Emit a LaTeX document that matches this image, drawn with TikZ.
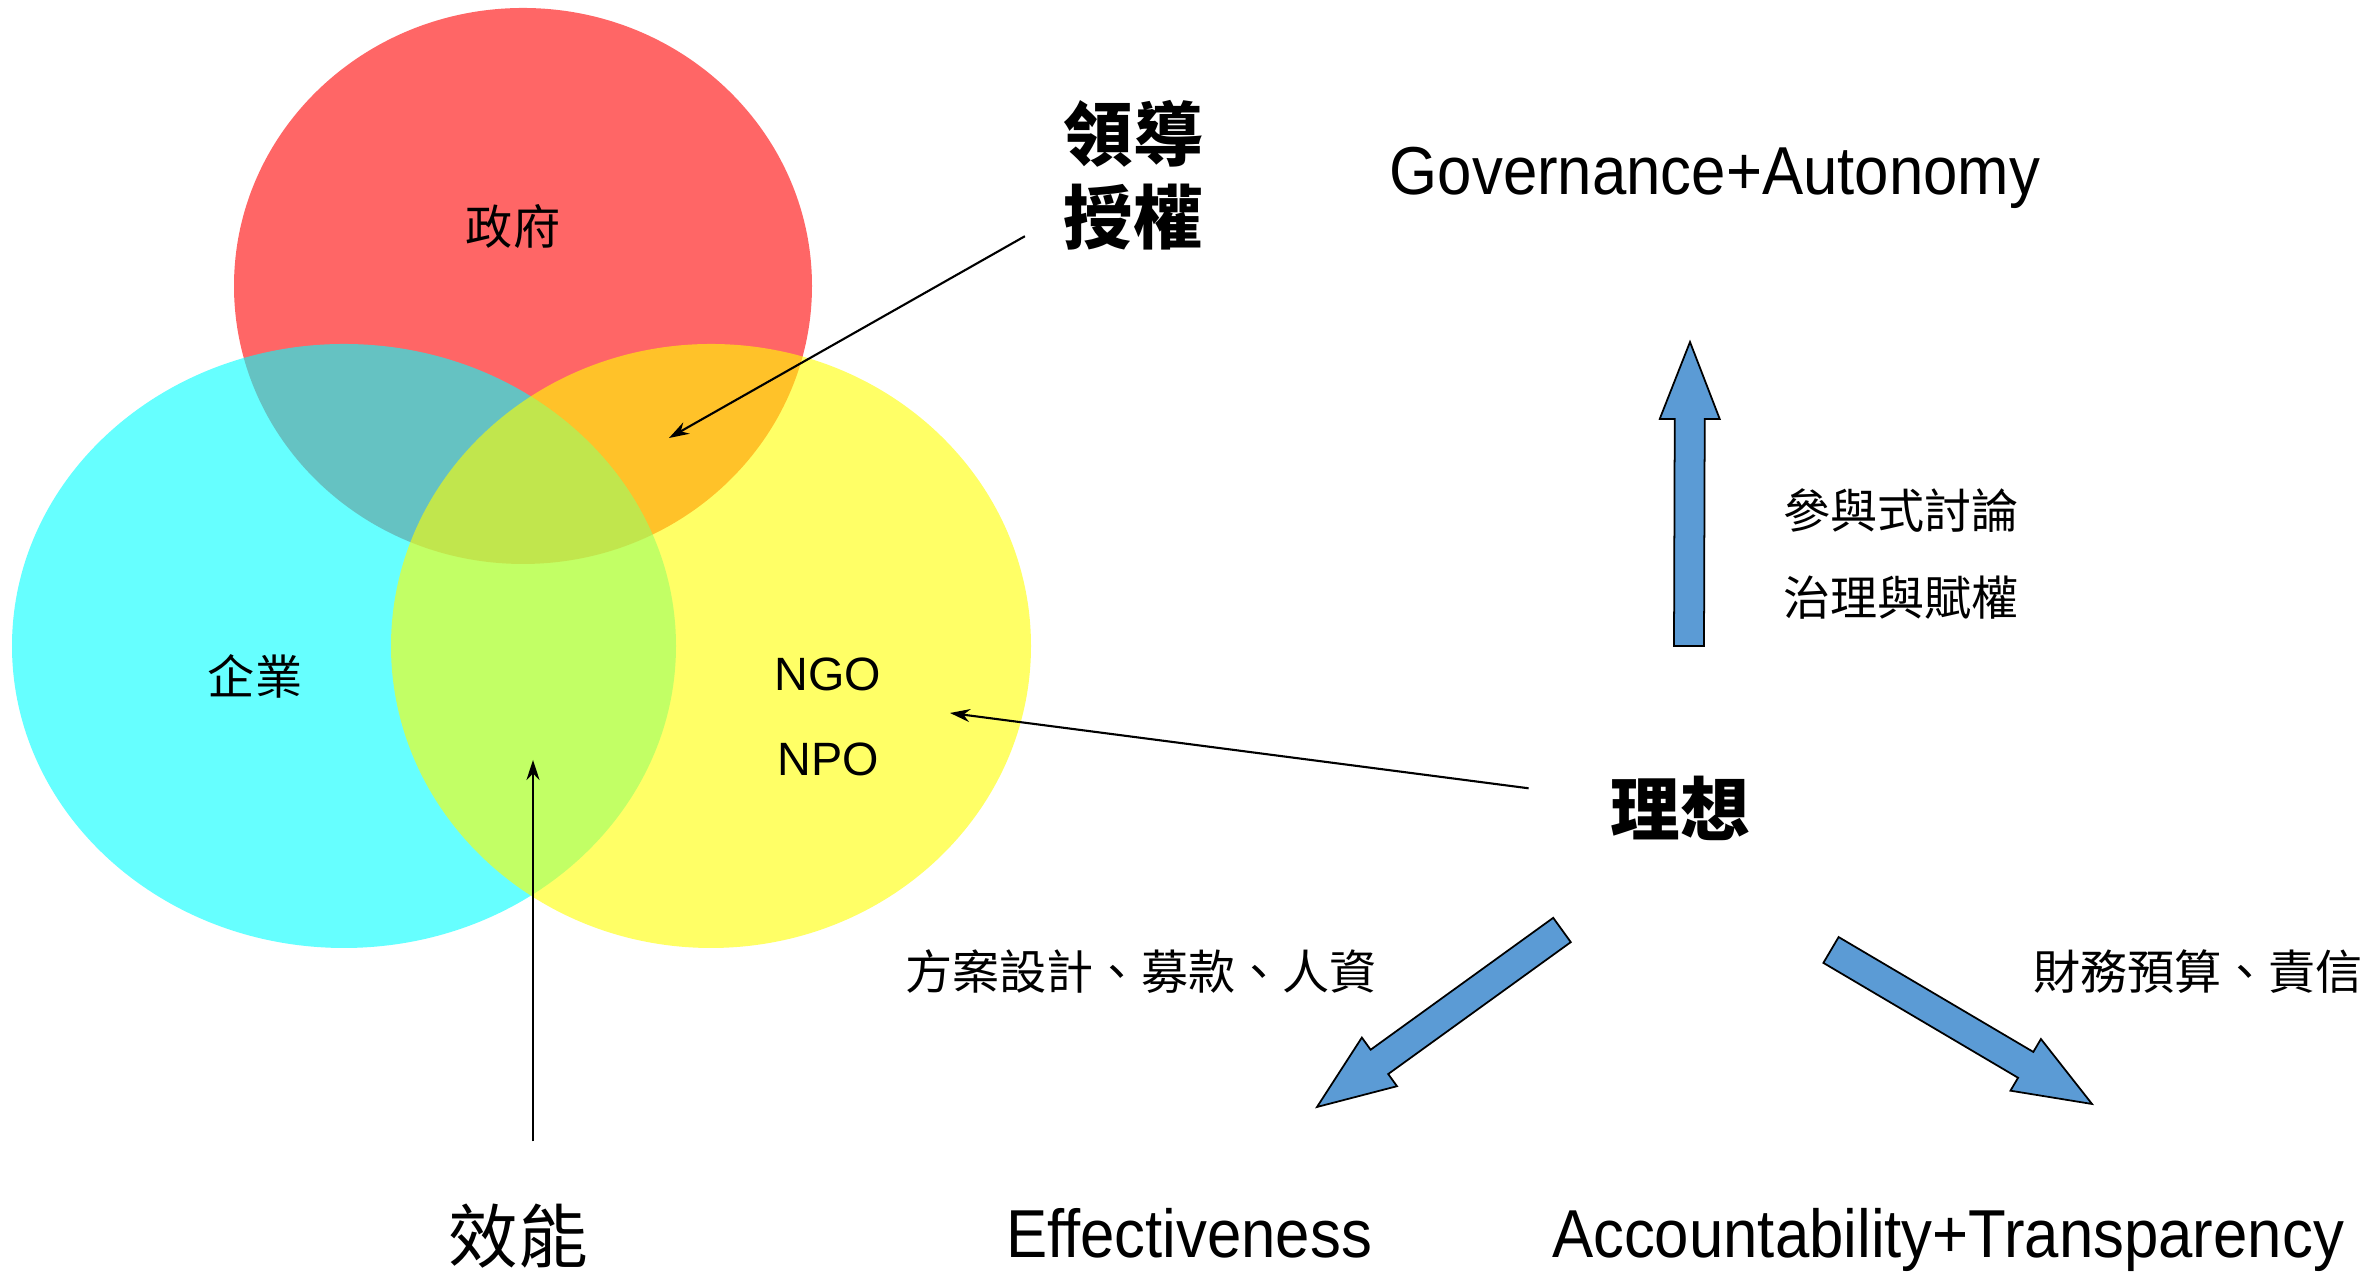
\documentclass[tikz,border=0pt]{standalone}
\usepackage{fontspec}
\setmainfont{Liberation Sans}
\newfontfamily\cjk{Noto Sans CJK TC}
\newfontfamily\narrowsans[FakeStretch=0.91]{Liberation Sans}
\usetikzlibrary{calc}
\usetikzlibrary{arrows.meta,positioning}

\definecolor{vennred}{RGB}{255,0,0}
\definecolor{venncyan}{RGB}{0,255,255}
\definecolor{vennyellow}{RGB}{255,255,0}
\definecolor{arrowblue}{RGB}{91,155,213}

% block arrow from tail #1 to tip #2
\newcommand{\fatarrow}[2]{%
  \coordinate (hb) at ($(#2)!0.77cm!(#1)$);
  \draw[fatstyle] ($(#1)!0.15cm!90:(#2)$) -- ($(hb)!0.15cm!90:(#2)$)
     -- ($(hb)!0.3cm!90:(#2)$) -- (#2) -- ($(hb)!0.3cm!-90:(#2)$)
     -- ($(hb)!0.15cm!-90:(#2)$) -- ($(#1)!0.15cm!-90:(#2)$) -- cycle;
}

\begin{document}
\begin{tikzpicture}[
      venn/.style={
         fill opacity=0.6,
         draw=none},
      smallcjk/.style={
         font={\cjk\fontsize{13.4}{24.5}\selectfont},
         align=center},
      bigcjk/.style={
         font={\cjk\fontsize{19.8}{23.6}\selectfont},
         align=center},
      boldcjk/.style={
         font={\cjk\bfseries\fontsize{19.8}{23.6}\selectfont},
         align=center},
      eng/.style={
         font={\narrowsans\fontsize{19.3}{22}\selectfont},
         anchor=base},
      fatstyle/.style={
         fill=arrowblue,
         draw=black,
         line width=0.5pt},
      thinarrow/.style={
         -{Stealth[length=0.2cm,width=0.13cm]},
         line width=0.6pt}
      ]
      \useasboundingbox (0,0) rectangle (23.69,12.74);

      % the three circles
      \fill[venn, vennred]    (5.23,9.88) ellipse [x radius=2.89, y radius=2.78];
      \fill[venn, venncyan]   (3.44,6.28) ellipse [x radius=3.32, y radius=3.02];
      \fill[venn, vennyellow] (7.11,6.28) ellipse [x radius=3.20, y radius=3.02];

      \node[smallcjk] (gov) at (5.13,10.47) {政府};
      \node[smallcjk] (biz) at (2.55,5.98) {企業};
      \node[font={\fontsize{13.3}{24}\selectfont}, align=center] (ngo) at (8.28,5.57) {NGO\\NPO};

      \node[boldcjk] (lead) at (11.33,10.99) {領導\\授權};
      \node[bigcjk] (xiaoneng) at (5.18,0.38) {效能};
      \node[boldcjk] (ideal) at (16.80,4.66) {理想};

      \node[eng] (gover) at (17.15,10.79) {Governance+Autonomy};
      \node[eng] (effect) at (11.89,0.16) {Effectiveness};
      \node[eng] (account) at (19.48,0.16) {Accountability+Transparency};

      \node[smallcjk] (partic) at (19.01,7.20) {參與式討論\\治理與賦權};
      \node[smallcjk] (funds) at (11.41,3.02) {方案設計、募款、人資};
      \node[smallcjk] (budget) at (21.98,3.02) {財務預算、責信};

      % ends of the arrows
      \coordinate (ltarget) at (6.69,8.36);
      \coordinate (ntarget) at (9.50,5.61);
      \coordinate (etarget) at (5.33,5.14);
      \coordinate (upT) at (16.89,6.28);
      \coordinate (upH) at (16.90,9.32);
      \coordinate (effT) at (15.62,3.44);
      \coordinate (effH) at (13.17,1.67);
      \coordinate (accT) at (18.31,3.24);
      \coordinate (accH) at (20.92,1.70);

    \foreach \i/\j/\s in {% start node/end/shorten
      lead/ltarget/0.3cm,
      ideal/ntarget/0.7cm,
      xiaoneng.north -| etarget/etarget/0.5cm}
       \draw [thinarrow, shorten <=\s] (\i) -- (\j);

    \foreach \t/\h in {upT/upH, effT/effH, accT/accH}
       \fatarrow{\t}{\h};
    \end{tikzpicture}
\end{document}
